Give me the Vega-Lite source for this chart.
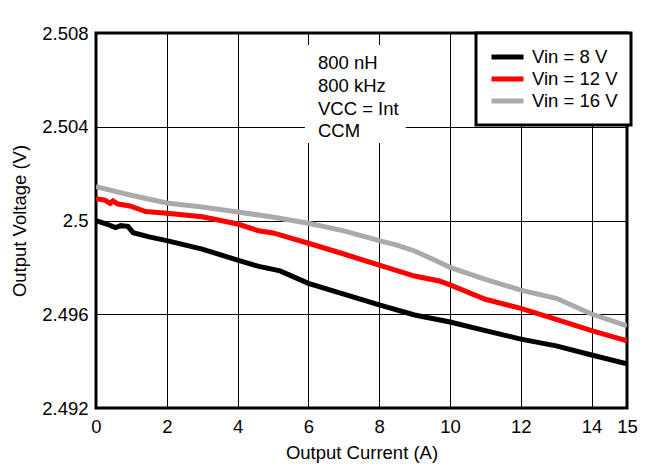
{
  "$schema": "https://vega.github.io/schema/vega-lite/v6.json",
  "width": 531,
  "height": 375,
  "autosize": {"type": "none"},
  "padding": {"left": 96, "top": 33, "right": 30, "bottom": 67},
  "background": "white",
  "config": {
    "font": "Liberation Sans",
    "view": {"stroke": "black", "strokeWidth": 3},
    "axis": {
      "grid": true,
      "gridColor": "black",
      "gridWidth": 1,
      "gridOpacity": 1,
      "ticks": false,
      "domain": false,
      "labelFlush": false,
      "labelOverlap": false,
      "labelFont": "Liberation Sans",
      "labelFontSize": 18.5,
      "labelColor": "black",
      "titleFont": "Liberation Sans",
      "titleFontSize": 18.5,
      "titleFontWeight": "normal",
      "titleColor": "black"
    },
    "legend": {"strokeWidth": 3}
  },
  "layer": [
    {
      "data": {"values": [
        {"I": 0, "V": 2.49999, "s": "Vin = 8 V"},
        {"I": 0.3, "V": 2.49985, "s": "Vin = 8 V"},
        {"I": 0.55, "V": 2.49970, "s": "Vin = 8 V"},
        {"I": 0.7, "V": 2.49978, "s": "Vin = 8 V"},
        {"I": 0.9, "V": 2.49975, "s": "Vin = 8 V"},
        {"I": 1.05, "V": 2.49948, "s": "Vin = 8 V"},
        {"I": 1.5, "V": 2.4993, "s": "Vin = 8 V"},
        {"I": 2, "V": 2.49914, "s": "Vin = 8 V"},
        {"I": 3, "V": 2.49878, "s": "Vin = 8 V"},
        {"I": 4, "V": 2.49831, "s": "Vin = 8 V"},
        {"I": 4.6, "V": 2.49804, "s": "Vin = 8 V"},
        {"I": 5.2, "V": 2.49785, "s": "Vin = 8 V"},
        {"I": 6, "V": 2.49732, "s": "Vin = 8 V"},
        {"I": 7, "V": 2.49686, "s": "Vin = 8 V"},
        {"I": 8, "V": 2.4964, "s": "Vin = 8 V"},
        {"I": 9, "V": 2.49597, "s": "Vin = 8 V"},
        {"I": 10, "V": 2.49567, "s": "Vin = 8 V"},
        {"I": 11, "V": 2.4953, "s": "Vin = 8 V"},
        {"I": 12, "V": 2.49494, "s": "Vin = 8 V"},
        {"I": 13, "V": 2.49465, "s": "Vin = 8 V"},
        {"I": 14, "V": 2.49426, "s": "Vin = 8 V"},
        {"I": 15, "V": 2.49388, "s": "Vin = 8 V"},
        {"I": 0, "V": 2.50093, "s": "Vin = 12 V"},
        {"I": 0.25, "V": 2.50087, "s": "Vin = 12 V"},
        {"I": 0.4, "V": 2.50073, "s": "Vin = 12 V"},
        {"I": 0.48, "V": 2.50084, "s": "Vin = 12 V"},
        {"I": 0.62, "V": 2.5007, "s": "Vin = 12 V"},
        {"I": 0.96, "V": 2.50062, "s": "Vin = 12 V"},
        {"I": 1.4, "V": 2.50038, "s": "Vin = 12 V"},
        {"I": 2, "V": 2.50031, "s": "Vin = 12 V"},
        {"I": 3, "V": 2.50016, "s": "Vin = 12 V"},
        {"I": 4, "V": 2.49985, "s": "Vin = 12 V"},
        {"I": 4.6, "V": 2.49956, "s": "Vin = 12 V"},
        {"I": 5, "V": 2.49947, "s": "Vin = 12 V"},
        {"I": 6, "V": 2.49903, "s": "Vin = 12 V"},
        {"I": 7, "V": 2.49857, "s": "Vin = 12 V"},
        {"I": 8, "V": 2.4981, "s": "Vin = 12 V"},
        {"I": 9, "V": 2.49763, "s": "Vin = 12 V"},
        {"I": 9.7, "V": 2.49742, "s": "Vin = 12 V"},
        {"I": 10, "V": 2.49725, "s": "Vin = 12 V"},
        {"I": 11, "V": 2.49664, "s": "Vin = 12 V"},
        {"I": 12, "V": 2.49625, "s": "Vin = 12 V"},
        {"I": 13, "V": 2.49578, "s": "Vin = 12 V"},
        {"I": 14, "V": 2.4953, "s": "Vin = 12 V"},
        {"I": 15, "V": 2.49487, "s": "Vin = 12 V"},
        {"I": 0, "V": 2.50144, "s": "Vin = 16 V"},
        {"I": 0.96, "V": 2.50109, "s": "Vin = 16 V"},
        {"I": 2, "V": 2.50075, "s": "Vin = 16 V"},
        {"I": 3, "V": 2.50058, "s": "Vin = 16 V"},
        {"I": 4, "V": 2.50036, "s": "Vin = 16 V"},
        {"I": 4.9, "V": 2.50017, "s": "Vin = 16 V"},
        {"I": 6, "V": 2.49988, "s": "Vin = 16 V"},
        {"I": 7, "V": 2.49956, "s": "Vin = 16 V"},
        {"I": 8, "V": 2.49914, "s": "Vin = 16 V"},
        {"I": 8.5, "V": 2.49895, "s": "Vin = 16 V"},
        {"I": 9, "V": 2.4987, "s": "Vin = 16 V"},
        {"I": 9.5, "V": 2.49836, "s": "Vin = 16 V"},
        {"I": 10, "V": 2.49800, "s": "Vin = 16 V"},
        {"I": 11, "V": 2.49749, "s": "Vin = 16 V"},
        {"I": 12, "V": 2.49703, "s": "Vin = 16 V"},
        {"I": 13, "V": 2.49668, "s": "Vin = 16 V"},
        {"I": 14, "V": 2.49601, "s": "Vin = 16 V"},
        {"I": 15, "V": 2.4955, "s": "Vin = 16 V"}
      ]},
      "mark": {"type": "line", "strokeWidth": 5, "clip": true},
      "encoding": {
        "x": {
          "field": "I", "type": "quantitative",
          "scale": {"domain": [0, 15], "nice": false, "zero": false},
          "axis": {"values": [0, 2, 4, 6, 8, 10, 12, 14, 15], "title": "Output Current (A)", "labelPadding": 9, "titlePadding": 8}
        },
        "y": {
          "field": "V", "type": "quantitative",
          "scale": {"domain": [2.492, 2.508], "nice": false, "zero": false},
          "axis": {"values": [2.492, 2.496, 2.5, 2.504, 2.508], "format": "~g", "title": "Output Voltage (V)", "labelPadding": 8, "titlePadding": 12}
        },
        "color": {
          "field": "s", "type": "nominal",
          "scale": {"domain": ["Vin = 8 V", "Vin = 12 V", "Vin = 16 V"], "range": ["#000000", "#ff0000", "#aaaaaa"]},
          "legend": {
            "orient": "none", "legendX": 380, "legendY": 0, "title": null,
            "symbolType": "stroke", "symbolSize": 1024, "symbolStrokeWidth": 5,
            "labelFontSize": 18.5, "labelFont": "Liberation Sans", "labelColor": "black", "labelOffset": 6,
            "clipHeight": 22,
            "strokeColor": "black", "fillColor": "white", "padding": 13, "rowPadding": 0
          }
        }
      }
    },
    {
      "data": {"values": [{"x1": 5.9, "x2": 8.75, "y1": 2.50331, "y2": 2.50749}]},
      "mark": {"type": "rect", "fill": "white"},
      "encoding": {
        "x": {"field": "x1", "type": "quantitative"},
        "x2": {"field": "x2"},
        "y": {"field": "y1", "type": "quantitative"},
        "y2": {"field": "y2"}
      }
    },
    {
      "data": {"values": [
        {"x": 6.27, "y": 2.50674, "t": "800 nH"},
        {"x": 6.27, "y": 2.50575, "t": "800 kHz"},
        {"x": 6.27, "y": 2.50476, "t": "VCC = Int"},
        {"x": 6.27, "y": 2.50382, "t": "CCM"}
      ]},
      "mark": {"type": "text", "align": "left", "baseline": "middle", "fontSize": 18.5, "font": "Liberation Sans", "color": "black"},
      "encoding": {
        "x": {"field": "x", "type": "quantitative"},
        "y": {"field": "y", "type": "quantitative"},
        "text": {"field": "t"}
      }
    }
  ]
}
